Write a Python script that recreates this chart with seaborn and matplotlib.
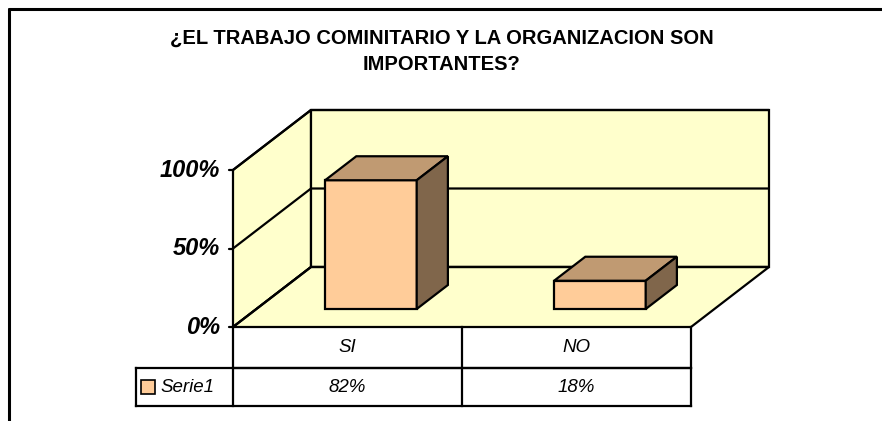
import matplotlib
matplotlib.use("Agg")
import matplotlib.pyplot as plt
from matplotlib.patches import Polygon
import seaborn as sns
import pandas as pd

# ---- data ----
title_lines = ["¿EL TRABAJO COMINITARIO Y LA ORGANIZACION SON", "IMPORTANTES?"]
categories = ["SI", "NO"]
values = [0.82, 0.18]
value_labels = ["82%", "18%"]
series_name = "Serie1"
y_ticks = [0.0, 0.5, 1.0]
y_tick_labels = ["0%", "50%", "100%"]

# ---- styling ----
FRONT = "#FFCC99"
TOP = "#C09A72"
SIDE = "#80664B"
WALL = "#FFFFCC"
LW = 1.6

sns.set_theme(style="white")
plt.rcParams["font.family"] = ["Liberation Sans", "DejaVu Sans"]
plt.rcParams["text.color"] = "black"

W, H = 882, 421
fig = plt.figure(figsize=(W / 100, H / 100), dpi=100)
ax = fig.add_axes([0, 0, 1, 1])

df = pd.DataFrame({"cat": categories, "val": values})
sns.barplot(data=df, x="cat", y="val", color=FRONT, width=0.40, saturation=1,
            edgecolor="black", linewidth=LW, ax=ax, zorder=5)

# geometry: axes data units = bar plane (category units, fraction units)
CAT_PX = 229.0
UNIT_PX = 157.0
DX = 78.0 / CAT_PX   # full depth offset in x units
DY = 60.0 / UNIT_PX  # full depth offset in y units
D0, D1 = 0.3, 0.7    # bar depth span
X0_PX, Y0_PX = 233 + D0 * 78.0, 327 - D0 * 60.0  # bar-plane origin (x=-0.5,y=0)
ax.set_xlim(-0.5 - X0_PX / CAT_PX, -0.5 + (W - X0_PX) / CAT_PX)
ax.set_ylim((Y0_PX - H) / UNIT_PX, Y0_PX / UNIT_PX)
ax.axis("off")


def P(u, y, d):
    """front-plane category coord u (0..n), value y, depth d (0 front..1 back)"""
    return (u - 0.5 + (d - D0) * DX, y + (d - D0) * DY)


n = len(categories)
ymax = y_ticks[-1]

# walls and floor
left_wall = [P(0, 0, 0), P(0, ymax, 0), P(0, ymax, 1), P(0, 0, 1)]
back_wall = [P(0, 0, 1), P(0, ymax, 1), P(n, ymax, 1), P(n, 0, 1)]
floor = [P(0, 0, 0), P(n, 0, 0), P(n, 0, 1), P(0, 0, 1)]
for poly in (left_wall, back_wall, floor):
    ax.add_patch(Polygon(poly, closed=True, facecolor=WALL, edgecolor="black",
                         linewidth=LW, zorder=1, joinstyle="miter"))

# gridlines
for t in y_ticks:
    xs, ys = zip(P(0, t, 0), P(0, t, 1), P(n, t, 1))
    ax.plot(xs, ys, color="black", lw=LW, zorder=2, solid_capstyle="butt")

# y tick marks and labels
for t, lab in zip(y_ticks, y_tick_labels):
    x, y = P(0, t, 0)
    ax.plot([x - 4 / CAT_PX, x], [y, y], color="black", lw=LW, zorder=2)
    ax.text(x - 13 / CAT_PX, y, lab, ha="right", va="center", fontsize=17,
            fontweight="bold", fontstyle="italic", color="black", zorder=6)

# 3D tops and sides of the bars
bw = 0.40
for i, v in enumerate(values):
    xl, xr = i - bw / 2, i + bw / 2
    ddx, ddy = (D1 - D0) * DX, (D1 - D0) * DY
    top = [(xl, v), (xr, v), (xr + ddx, v + ddy), (xl + ddx, v + ddy)]
    side = [(xr, 0), (xr, v), (xr + ddx, v + ddy), (xr + ddx, ddy)]
    ax.add_patch(Polygon(top, closed=True, facecolor=TOP, edgecolor="black",
                         linewidth=LW, zorder=5, joinstyle="miter"))
    ax.add_patch(Polygon(side, closed=True, facecolor=SIDE, edgecolor="black",
                         linewidth=LW, zorder=5, joinstyle="miter"))

# data table
row1 = 41 / UNIT_PX
row2 = 38 / UNIT_PX
leg_w = 97 / CAT_PX
x_left, yb = P(0, 0, 0)
x_right, _ = P(n, 0, 0)
lines = [
    ([x_left, x_right], [yb - row1, yb - row1]),
    ([x_left - leg_w, x_right], [yb - row1, yb - row1]),
    ([x_left - leg_w, x_right], [yb - row1 - row2, yb - row1 - row2]),
    ([x_left - leg_w, x_left - leg_w], [yb - row1, yb - row1 - row2]),
]
for k in range(n + 1):
    xk, _ = P(k, 0, 0)
    lines.append(([xk, xk], [yb, yb - row1 - row2]))
for xs, ys in lines:
    ax.plot(xs, ys, color="black", lw=LW, zorder=3, solid_capstyle="projecting")

for i, (c, lab) in enumerate(zip(categories, value_labels)):
    xc, _ = P(i + 0.5, 0, 0)
    ax.text(xc, yb - row1 / 2, c, ha="center", va="center", fontsize=13.5,
            fontstyle="italic", color="black")
    ax.text(xc, yb - row1 - row2 / 2, lab, ha="center", va="center",
            fontsize=13.5, fontstyle="italic", color="black")

# legend key
kx = x_left - leg_w + 5 / CAT_PX
ky = yb - row1 - row2 / 2
ks = 14
ax.add_patch(Polygon([(kx, ky - ks / 2 / UNIT_PX), (kx + ks / CAT_PX, ky - ks / 2 / UNIT_PX),
                      (kx + ks / CAT_PX, ky + ks / 2 / UNIT_PX), (kx, ky + ks / 2 / UNIT_PX)],
                     closed=True, facecolor=FRONT, edgecolor="black", linewidth=1.2, zorder=4))
ax.text(kx + (ks + 5) / CAT_PX, ky, series_name, ha="left", va="center",
        fontsize=13.5, fontstyle="italic", color="black")

# title (two centred lines)
for line, ypx in zip(title_lines, [38, 64]):
    fig.text(442 / W, 1 - ypx / H, line, ha="center", va="center", fontsize=14.5,
             fontweight="bold", color="black")

# outer frame (top and left edges visible)
fig.add_artist(plt.Line2D([9 / W, 1.0], [1 - 9 / H, 1 - 9 / H], color="black", lw=2.2))
fig.add_artist(plt.Line2D([9 / W, 9 / W], [1 - 9 / H, 0.0], color="black", lw=2.2))

fig.savefig("out.png", dpi=100)
